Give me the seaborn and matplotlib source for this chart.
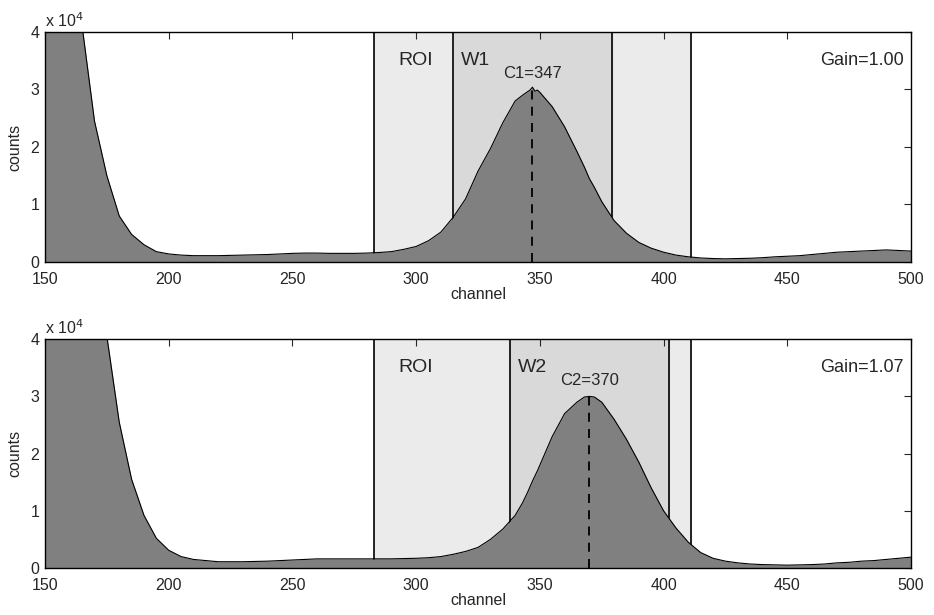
import numpy as np
import pandas as pd
import matplotlib
matplotlib.use("Agg")
import matplotlib.pyplot as plt
import seaborn as sns

# channel grid shared by both spectra
channels = [150, 155, 160, 165, 170, 175, 180, 185, 190, 195, 200, 205, 210, 215,
            220, 225, 230, 235, 240, 245, 250, 255, 260, 265, 270, 275, 280, 285,
            290, 295, 300, 305, 310, 315, 320, 325, 330, 335, 340, 343, 345, 346,
            347, 348, 349, 350, 355, 360, 365, 368, 370, 372, 375, 380, 385, 390,
            395, 400, 405, 410, 415, 420, 425, 430, 435, 440, 445, 450, 455, 460,
            465, 470, 475, 480, 485, 490, 495, 500]

# counts in units of 1e4
counts_gain100 = [8.5, 6.5, 5.0, 4.1, 2.45, 1.5, 0.8, 0.48, 0.3, 0.18, 0.14, 0.12, 0.11, 0.11,
                  0.11, 0.115, 0.12, 0.125, 0.13, 0.14, 0.15, 0.155, 0.155, 0.15, 0.15, 0.15, 0.155, 0.165,
                  0.18, 0.22, 0.27, 0.37, 0.52, 0.78, 1.1, 1.58, 1.97, 2.42, 2.8, 2.9, 2.96, 2.99,
                  3.04, 2.97, 2.99, 2.95, 2.7, 2.35, 1.92, 1.65, 1.45, 1.3, 1.05, 0.72, 0.5, 0.34,
                  0.24, 0.17, 0.12, 0.09, 0.07, 0.06, 0.055, 0.06, 0.065, 0.075, 0.09, 0.1, 0.11, 0.13,
                  0.15, 0.17, 0.18, 0.19, 0.2, 0.21, 0.2, 0.19]

counts_gain107 = [8.0, 7.0, 6.0, 5.2, 4.6, 4.05, 2.55, 1.55, 0.92, 0.52, 0.31, 0.2, 0.15, 0.13,
                  0.11, 0.11, 0.11, 0.115, 0.12, 0.13, 0.14, 0.15, 0.16, 0.16, 0.16, 0.16, 0.16, 0.16,
                  0.16, 0.165, 0.17, 0.18, 0.2, 0.24, 0.29, 0.36, 0.5, 0.68, 0.92, 1.14, 1.32, 1.42,
                  1.52, 1.61, 1.7, 1.8, 2.3, 2.7, 2.9, 2.99, 3.0, 2.99, 2.9, 2.6, 2.25, 1.85,
                  1.4, 1.0, 0.7, 0.45, 0.27, 0.17, 0.12, 0.09, 0.07, 0.06, 0.055, 0.05, 0.055, 0.06,
                  0.07, 0.09, 0.1, 0.12, 0.13, 0.15, 0.17, 0.19]

roi = (283, 411)
windows = [(315, 379), (338, 402)]
centroids = [347, 370]
peak_heights = [3.04, 3.0]
gains = ["Gain=1.00", "Gain=1.07"]
win_names = ["W1", "W2"]
cent_names = ["C1=347", "C2=370"]

sns.set_style("white")
plt.rcParams["font.family"] = ["Liberation Sans", "DejaVu Sans"]

fig = plt.figure(figsize=(9.34, 6.15), dpi=100)
ax_top = fig.add_axes([0.0482, 0.574, 0.9272, 0.374])
ax_bot = fig.add_axes([0.0482, 0.0764, 0.9272, 0.372])

for i, (ax, counts) in enumerate(zip([ax_top, ax_bot], [counts_gain100, counts_gain107])):
    df = pd.DataFrame({"channel": channels, "counts": counts})
    wl, wr = windows[i]

    ax.axvspan(roi[0], roi[1], color="#ebebeb", zorder=0)
    ax.axvspan(wl, wr, color="#d9d9d9", zorder=0)
    for xv in [roi[0], wl, wr, roi[1]]:
        ax.axvline(xv, color="black", lw=1.2, zorder=1)

    ax.fill_between(df["channel"], df["counts"], 0, color="#808080", lw=0, zorder=2)
    sns.lineplot(data=df, x="channel", y="counts", ax=ax, color="black", lw=0.8, zorder=3)

    ax.plot([centroids[i], centroids[i]], [0, peak_heights[i]], color="black", lw=1.3,
            ls=(0, (5, 4)), zorder=4)

    ax.text(300, 3.5, "ROI", fontsize=14, ha="center", va="center")
    ax.text(wl + 9, 3.5, win_names[i], fontsize=14, ha="center", va="center")
    ax.text(centroids[i], 3.28, cent_names[i], fontsize=12, ha="center", va="center")
    ax.text(497, 3.5, gains[i], fontsize=13, ha="right", va="center")

    ax.set_xlim(150, 500)
    ax.set_ylim(0, 4)
    ax.set_xticks([150, 200, 250, 300, 350, 400, 450, 500])
    ax.set_yticks([0, 1, 2, 3, 4])
    ax.tick_params(direction="in", top=True, right=True, length=5, width=0.8,
                   labelsize=11.5)
    ax.tick_params(axis="x", pad=7)
    ax.tick_params(axis="y", pad=4)
    ax.set_xlabel("channel", fontsize=11.5, labelpad=0)
    ax.set_ylabel("counts", fontsize=11.5, labelpad=6)
    for s in ax.spines.values():
        s.set_color("black")
        s.set_linewidth(1.0)
        s.set_zorder(5)
    ax.text(0.0, 1.01, r"x 10$^4$", transform=ax.transAxes, fontsize=11.5,
            ha="left", va="bottom")

fig.savefig("out.png", dpi=100)
